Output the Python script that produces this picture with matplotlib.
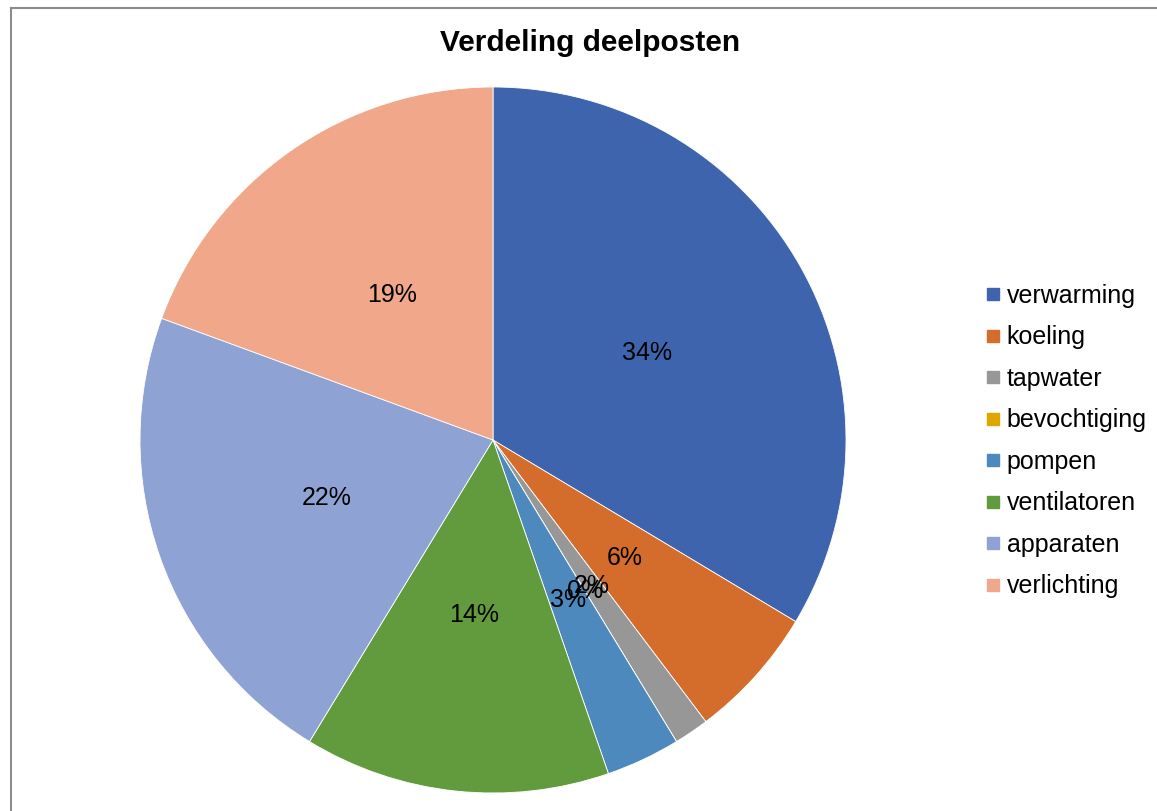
import matplotlib
matplotlib.use("Agg")
import matplotlib.pyplot as plt
from matplotlib.lines import Line2D

plt.rcParams['font.family'] = ['Liberation Sans', 'DejaVu Sans']

categories = ["verwarming", "koeling", "tapwater", "bevochtiging", "pompen",
              "ventilatoren", "apparaten", "verlichting"]
values = [33.6, 6.1, 1.6, 0.0, 3.4, 14.0, 21.9, 19.4]
colors = ["#3E64AD", "#D46C2B", "#979797", "#DFA600", "#4E89BD",
          "#629B3D", "#8FA2D4", "#F0A78A"]
title = "Verdeling deelposten"

W, H = 1157, 811
fig = plt.figure(figsize=(W / 100, H / 100), dpi=100)

cx, cy, r = 493, 440, 353
ax = fig.add_axes([(cx - r) / W, (H - cy - r) / H, 2 * r / W, 2 * r / H])
wedges, texts, autotexts = ax.pie(
    values, colors=colors, startangle=90, counterclock=False, radius=1.0,
    autopct=lambda p: f"{p:.0f}%", pctdistance=0.5,
    wedgeprops=dict(edgecolor="white", linewidth=0.6),
    textprops=dict(fontsize=18, color="black"))
ax.set_xlim(-1, 1)
ax.set_ylim(-1, 1)
ax.set_aspect('equal')
ax.axis('off')

fig.text(590 / W, 1 - 43 / H, title, ha='center', va='center',
         fontsize=21.5, fontweight='bold')

handles = [Line2D([0], [0], marker='s', linestyle='none', markersize=9,
                  markerfacecolor=c, markeredgecolor=c) for c in colors]
fig.legend(handles, categories, loc='center left',
           bbox_to_anchor=(974 / W, 1 - 441 / H), frameon=False,
           fontsize=18, handlelength=0.55, handletextpad=0.25,
           labelspacing=0.7, borderpad=0)

# chart border (top and left visible)
fig.add_artist(Line2D([11 / W, 1], [1 - 8 / H, 1 - 8 / H], color="#8C8C8C",
                      linewidth=1.5, transform=fig.transFigure))
fig.add_artist(Line2D([11 / W, 11 / W], [0, 1 - 8 / H], color="#8C8C8C",
                      linewidth=1.5, transform=fig.transFigure))

fig.savefig("out.png", dpi=100, facecolor="white")
